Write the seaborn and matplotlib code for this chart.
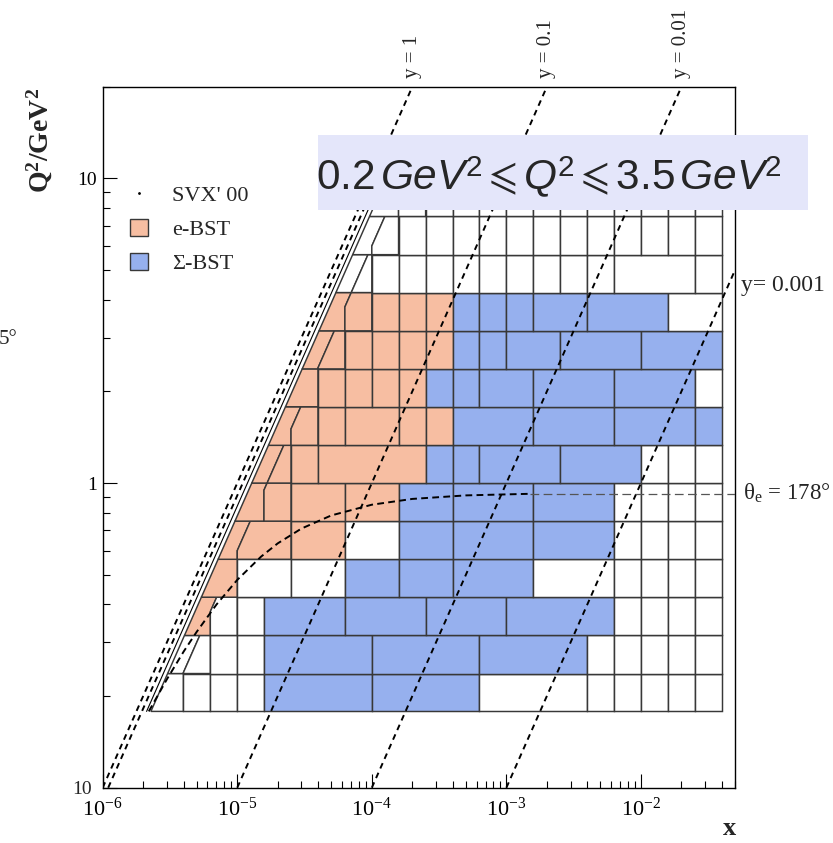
import numpy as np
import pandas as pd
import matplotlib
matplotlib.use("Agg")
import matplotlib.pyplot as plt
import seaborn as sns
from matplotlib.lines import Line2D
from matplotlib.patches import Patch, Rectangle
from matplotlib.ticker import LogLocator, NullFormatter

# ------------------------------------------------------------------ data
# fine bin edges
X_EDGES = [1.00e-6, 1.58e-6, 2.51e-6, 3.98e-6, 6.31e-6, 1.00e-5, 1.58e-5, 2.51e-5,
           3.98e-5, 6.31e-5, 1.00e-4, 1.58e-4, 2.51e-4, 3.98e-4, 6.31e-4, 1.00e-3,
           1.58e-3, 2.51e-3, 3.98e-3, 6.31e-3, 1.00e-2, 1.58e-2, 2.51e-2, 3.98e-2]
Q2_EDGES = [0.178, 0.237, 0.316, 0.422, 0.562, 0.750, 1.00, 1.33, 1.78, 2.37,
            3.16, 4.22, 5.62, 7.50, 10.0]

# per Q2 row (bottom -> top): indices into X_EDGES and cell classes
# O = e-BST, B = Sigma-BST, w = empty bin
ROW_EDGES = [
    [0, 3, 4, 5, 6, 10, 14, 18, 19, 20, 21, 22, 23],
    [0, 3, 4, 5, 6, 10, 14, 18, 19, 20, 21, 22, 23],
    [0, 4, 5, 6, 9, 12, 15, 19, 20, 21, 22, 23],
    [0, 5, 7, 9, 11, 13, 16, 19, 20, 21, 22, 23],
    [0, 5, 7, 9, 11, 13, 16, 19, 20, 21, 22, 23],
    [0, 6, 7, 9, 11, 13, 16, 19, 20, 21, 22, 23],
    [0, 6, 7, 8, 12, 13, 14, 17, 20, 21, 22, 23],
    [0, 7, 8, 9, 11, 12, 13, 16, 19, 22, 23],
    [0, 8, 9, 10, 11, 12, 13, 14, 16, 19, 22, 23],
    [0, 8, 9, 10, 11, 12, 13, 14, 15, 17, 20, 23],
    [0, 9, 10, 11, 12, 13, 14, 15, 16, 18, 21, 23],
    [0, 9, 10, 11, 12, 13, 14, 15, 16, 17, 18, 19, 22, 23],
    [0, 10, 11, 12, 13, 14, 15, 16, 17, 18, 19, 20, 21, 22, 23],
    [0, 11, 12, 13, 14, 15, 16, 17, 18, 19, 20, 21, 22, 23],
]
ROW_CLASSES = [
    "wwwwBBwwwwww",
    "wwwwBBBwwwww",
    "OwwBBBBwwww",
    "OwwBBBwwwww",
    "OOOwBBBwwww",
    "OOOOBBBwwww",
    "OOOOBBBBwww",
    "OOOOOOBBBB",
    "OOOOOBBBBBw",
    "OOOOOOBBBBB",
    "OOOOOBBBBBw",
    "wwwwwwwwwwwww",
    "wwwwwwwwwwwwww",
    "wwwwwwwwwwwww",
]

S_BEAM = 1.0e5          # Q2 = s * x * y
Y_OUTER = 0.78          # outer edge of the binning
Y_KINK = 0.60           # high-y bin boundary
Y_LINES = [1.0, 0.1, 0.01, 0.001]
Y_LABELS = ["y = 1", "y = 0.1", "y = 0.01", "y= 0.001"]
Y_EXTRA_DASHED = 0.91
Y_EXTRA_SOLID = 0.84

THETA_X = [2.2e-6, 3e-6, 4e-6, 5e-6, 7e-6, 1e-5, 1.5e-5, 2e-5, 3e-5, 5e-5,
           1e-4, 2e-4, 5e-4, 1.5e-3]
THETA_Q2 = [0.178, 0.227, 0.280, 0.325, 0.399, 0.481, 0.573, 0.634, 0.709, 0.783,
            0.849, 0.887, 0.911, 0.922]
THETA_FLAT_X = [1.5e-3, 5.0e-2]
THETA_FLAT_Q2 = [0.923, 0.923]

X_LIM = (1e-6, 5e-2)
Q2_LIM = (0.1, 20.0)
X_TICKS = [1e-6, 1e-5, 1e-4, 1e-3, 1e-2]
X_TICK_LABELS = [r"$\mathregular{10^{-6}}$", r"$\mathregular{10^{-5}}$",
                 r"$\mathregular{10^{-4}}$", r"$\mathregular{10^{-3}}$",
                 r"$\mathregular{10^{-2}}$"]
Y_TICKS = [0.1, 1, 10]
Y_TICK_LABELS = ["10", "1", "10"]

COLORS = {"O": "#f7bea2", "B": "#96b0ee", "w": "white"}
EDGE = "#383838"

# ------------------------------------------------------------------ style
sns.set_style("ticks")
plt.rcParams["font.family"] = ["Liberation Serif", "DejaVu Serif"]
plt.rcParams["mathtext.fontset"] = "custom"
plt.rcParams["mathtext.rm"] = "Liberation Serif"
plt.rcParams["mathtext.it"] = "Liberation Serif:italic"
plt.rcParams["mathtext.bf"] = "Liberation Serif:bold"
plt.rcParams["mathtext.sf"] = "Liberation Sans"
plt.rcParams["mathtext.cal"] = "Liberation Sans:italic"
plt.rcParams["mathtext.fallback"] = "stix"

W, H = 833, 843
fig = plt.figure(figsize=(W / 100, H / 100), dpi=100)
ax = fig.add_axes([102.7 / W, 1 - 787.7 / H, (735 - 102.7) / W, (787.7 - 86.7) / H])
ax.set_xscale("log")
ax.set_yscale("log")
ax.set_xlim(*X_LIM)
ax.set_ylim(*Q2_LIM)


# ------------------------------------------------------------------ bins
def side(xe, qa, qb, ycut):
    qk = xe * S_BEAM * ycut
    qs = [qa] + ([qk] if qa < qk < qb else []) + [qb]
    return [(max(xe, q / (S_BEAM * ycut)), q) for q in qs]


for r, (edges, classes) in enumerate(zip(ROW_EDGES, ROW_CLASSES)):
    qa, qb = Q2_EDGES[r], Q2_EDGES[r + 1]
    for c, cls in enumerate(classes):
        left = side(X_EDGES[edges[c]], qa, qb, Y_OUTER if c == 0 else Y_KINK)
        right = side(X_EDGES[edges[c + 1]], qa, qb, Y_KINK)
        pts = left + right[::-1]
        ax.fill([p[0] for p in pts], [p[1] for p in pts], facecolor=COLORS[cls],
                edgecolor=EDGE, linewidth=1.05, zorder=1)

# ------------------------------------------------------------------ kinematic lines
rows = []
for yv in Y_LINES:
    q_lo = Q2_LIM[0]
    q_hi = min(Q2_LIM[1], S_BEAM * yv * X_LIM[1])
    rows.append({"line": f"y={yv}", "x": q_lo / (S_BEAM * yv), "Q2": q_lo})
    rows.append({"line": f"y={yv}", "x": q_hi / (S_BEAM * yv), "Q2": q_hi})
rows.append({"line": "edge_d", "x": Q2_LIM[0] / (S_BEAM * Y_EXTRA_DASHED), "Q2": Q2_LIM[0]})
rows.append({"line": "edge_d", "x": Q2_EDGES[-1] / (S_BEAM * Y_EXTRA_DASHED), "Q2": Q2_EDGES[-1]})
lines_df = pd.DataFrame(rows)

for name, sub in lines_df.groupby("line", sort=False):
    sns.lineplot(data=sub, x="x", y="Q2", ax=ax, color="black", linewidth=1.4,
                 linestyle=(0, (3.0, 2.4)), estimator=None, sort=False, zorder=4,
                 legend=False)

solid_df = pd.DataFrame({
    "x": [Q2_EDGES[0] / (S_BEAM * Y_EXTRA_SOLID), Q2_EDGES[-1] / (S_BEAM * Y_EXTRA_SOLID)],
    "Q2": [Q2_EDGES[0], Q2_EDGES[-1]]})
sns.lineplot(data=solid_df, x="x", y="Q2", ax=ax, color="black", linewidth=0.8,
             estimator=None, sort=False, zorder=3, legend=False)

theta_df = pd.DataFrame({"x": THETA_X, "Q2": THETA_Q2})
sns.lineplot(data=theta_df, x="x", y="Q2", ax=ax, color="black", linewidth=1.4,
             linestyle=(0, (3.5, 2.2)), estimator=None, sort=False, zorder=4, legend=False)
flat_df = pd.DataFrame({"x": THETA_FLAT_X, "Q2": THETA_FLAT_Q2})
sns.lineplot(data=flat_df, x="x", y="Q2", ax=ax, color="#555555", linewidth=0.9,
             linestyle=(0, (7, 3.5)), estimator=None, sort=False, zorder=4, legend=False)

# ------------------------------------------------------------------ axes
ax.set_xlabel("")
ax.set_ylabel("")
ax.set_xticks(X_TICKS)
ax.set_xticklabels(X_TICK_LABELS)
ax.set_yticks(Y_TICKS)
ax.set_yticklabels([""] + Y_TICK_LABELS[1:])
ax.xaxis.set_minor_locator(LogLocator(base=10, subs=np.arange(2, 10), numticks=100))
ax.yaxis.set_minor_locator(LogLocator(base=10, subs=np.arange(2, 10), numticks=100))
ax.xaxis.set_minor_formatter(NullFormatter())
ax.yaxis.set_minor_formatter(NullFormatter())
ax.set_xlim(*X_LIM)
ax.set_ylim(*Q2_LIM)
ax.tick_params(which="both", direction="in", top=False, right=False, color="black",
               width=0.8, labelcolor="black")
ax.tick_params(which="major", length=10)
ax.tick_params(which="minor", length=5)
ax.tick_params(axis="x", which="major", pad=7, labelsize=16)
ax.tick_params(axis="y", which="major", pad=4, labelsize=14)
for sp in ax.spines.values():
    sp.set_color("black")
    sp.set_linewidth(1.0)
ax.grid(False)
# lowest Q2 label sits a little further left/down, as in the original
fig.text(92 / W, 1 - 790 / H, Y_TICK_LABELS[0], fontsize=14, ha="right", va="center")

# legend
handles = [Line2D([0], [0], marker=".", markersize=2, color="black", linestyle="none"),
           Patch(facecolor=COLORS["O"], edgecolor=EDGE, linewidth=1.0),
           Patch(facecolor=COLORS["B"], edgecolor=EDGE, linewidth=1.0)]
ax.legend(handles, ["SVX' 00", "e-BST", "Σ-BST"], loc="upper left",
          bbox_to_anchor=(130 / W, 1 - 185 / H), bbox_transform=fig.transFigure,
          frameon=False, fontsize=16, handlelength=0.8, handleheight=0.8,
          handletextpad=1.1, labelspacing=0.58, borderpad=0, borderaxespad=0)

# y-line labels
for yv, lab in zip(Y_LINES[:3], Y_LABELS[:3]):
    ax.text(Q2_LIM[1] / (S_BEAM * yv), 1.012, lab, transform=ax.get_xaxis_transform(),
            rotation=90, ha="center", va="bottom", fontsize=15, clip_on=False)
fig.text(741 / W, 1 - 291 / H, Y_LABELS[3], fontsize=17, ha="left", va="baseline")
fig.text(743 / W, 1 - 500 / H, r"$\mathregular{\theta_{e}}$ = 178°", fontsize=16.5,
         ha="left", va="baseline")
fig.text(-1 / W, 1 - 340 / H, "5°", fontsize=15, ha="left", va="center")

# axis titles
fig.text(40 / W, 1 - 140 / H, r"$\mathbf{Q^{2}/GeV^{2}}$", rotation=90, fontsize=20,
         ha="center", va="center")
fig.text(730 / W, 1 - 835 / H, "x", fontsize=19, fontweight="bold", ha="center",
         va="baseline")

# highlighted Q2-range box
fig.add_artist(Rectangle((318 / W, 1 - 210 / H), 490 / W, 75 / H,
                         transform=fig.transFigure, facecolor="#e4e6fa",
                         edgecolor="none", zorder=5))
fig.text(316 / W, 1 - 190 / H,
         r"$\mathsf{0.2}\,\mathcal{GeV}^{\mathsf{2}}\leqslant\mathcal{Q}^{\mathsf{2}}"
         r"\leqslant\mathsf{3.5}\,\mathcal{GeV}^{\mathsf{2}}$",
         fontsize=30.5, ha="left", va="baseline", zorder=6)

fig.savefig("out.png", dpi=100)
